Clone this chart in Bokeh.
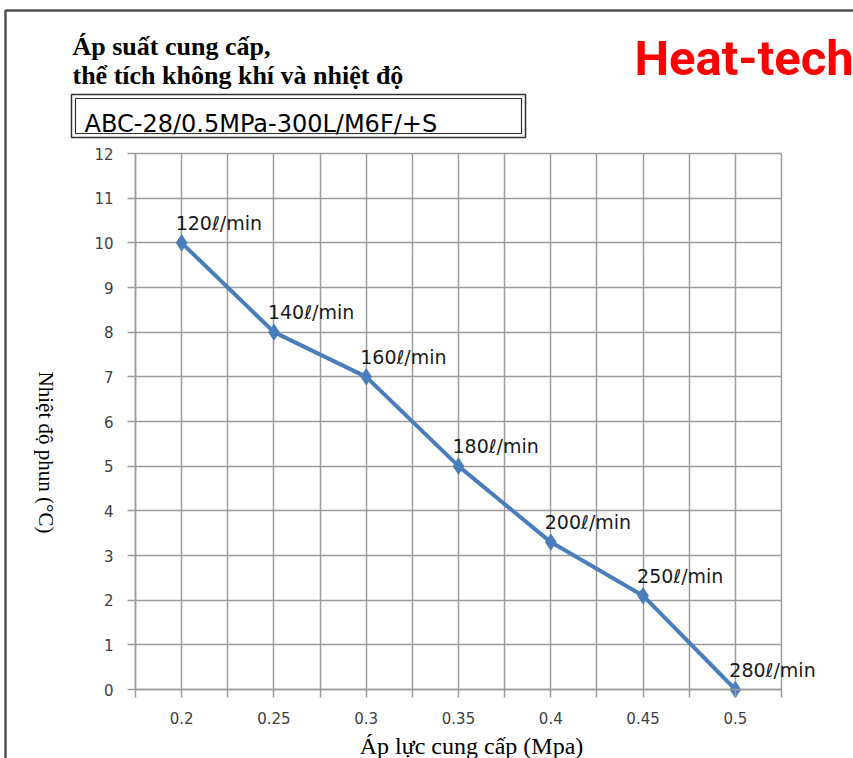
import math
from bokeh.plotting import figure
from bokeh.models import (ColumnDataSource, LabelSet, Label, FixedTicker, Range1d,
                          BoxAnnotation, Grid)
from bokeh.core.properties import value
from bokeh.embed import file_html
from bokeh.resources import INLINE

# ---- data ----
pressure = [0.2, 0.25, 0.3, 0.35, 0.4, 0.45, 0.5]
temperature = [10, 8, 7, 5, 3.3, 2.1, 0]
flow_labels = ["120ℓ/min", "140ℓ/min", "160ℓ/min", "180ℓ/min",
               "200ℓ/min", "250ℓ/min", "280ℓ/min"]
x_tick_labels = ["0.2", "0.25", "0.3", "0.35", "0.4", "0.45", "0.5"]
y_ticks = list(range(0, 13))
title_lines = ["Áp suất cung cấp,", "thể tích không khí và nhiệt độ"]
model_name = "ABC-28/0.5MPa-300L/M6F/+S"
brand = "Heat-tech"
x_title = "Áp lực cung cấp (Mpa)"
y_title = "Nhiệt độ phun (°C)"

half = 0.025
boundaries = [round(v - half, 3) for v in pressure] + [round(pressure[-1] + half, 3)]
all_ticks = sorted(boundaries + pressure)
overrides = {b: "" for b in boundaries}
for v, t in zip(pressure, x_tick_labels):
    overrides[v] = t
x_lo, x_hi = boundaries[0], boundaries[-1]
y_lo, y_hi = y_ticks[0], y_ticks[-1]

# ---- layout (pixels) ----
W, H = 853, 758
PL, PR, PT, PB = 135, 781, 153, 689          # plot area in canvas pixels
sx = (x_hi - x_lo) / (PR - PL)
sy = (y_hi - y_lo) / (PB - PT)
xr = Range1d(x_lo - PL * sx, x_hi + (W - PR) * sx)
yr = Range1d(y_lo - (H - PB) * sy, y_hi + PT * sy)

p = figure(width=W, height=H, output_backend="svg", toolbar_location=None,
           x_range=xr, y_range=yr, min_border=0)
p.outline_line_color = None
p.background_fill_color = "white"
p.border_fill_color = "white"

grid_col = "#9c9c9c"
p.xaxis.fixed_location = y_lo
p.yaxis.fixed_location = x_lo
p.xaxis.bounds = (x_lo, x_hi)
p.yaxis.bounds = (y_lo, y_hi)
for ax in (p.xaxis[0], p.yaxis[0]):
    ax.axis_line_color = grid_col
    ax.axis_line_width = 1.5
    ax.major_tick_line_color = grid_col
    ax.major_tick_line_width = 1.5
    ax.major_tick_out = 8
    ax.major_tick_in = 0
    ax.minor_tick_line_color = None
    ax.major_label_text_font = "DejaVu Sans"
    ax.major_label_text_font_size = "15px"
    ax.major_label_text_color = "#404040"
    ax.major_label_standoff = 14

p.xaxis.ticker = FixedTicker(ticks=all_ticks)
p.xaxis.major_label_overrides = overrides
p.yaxis.ticker = FixedTicker(ticks=y_ticks)

# grid restricted to the plot area
if "cross_bounds" in Grid.properties():
    p.xgrid.ticker = FixedTicker(ticks=all_ticks)
    p.ygrid.ticker = FixedTicker(ticks=y_ticks)
    p.xgrid.bounds = (x_lo, x_hi)
    p.xgrid.cross_bounds = (y_lo, y_hi)
    p.ygrid.bounds = (y_lo, y_hi)
    p.ygrid.cross_bounds = (x_lo, x_hi)
    for g in (p.xgrid[0], p.ygrid[0]):
        g.grid_line_color = grid_col
        g.grid_line_width = 1.5
else:
    p.xgrid.visible = False
    p.ygrid.visible = False
    p.segment(x0=all_ticks, y0=[y_lo] * len(all_ticks), x1=all_ticks,
              y1=[y_hi] * len(all_ticks), line_color=grid_col, line_width=1.5)
    p.segment(x0=[x_lo] * len(y_ticks), y0=y_ticks, x1=[x_hi] * len(y_ticks),
              y1=y_ticks, line_color=grid_col, line_width=1.5)

src = ColumnDataSource(dict(x=pressure, y=temperature, t=flow_labels))
blue = "#4a7ebb"
p.line("x", "y", source=src, line_color=blue, line_width=4)
p.scatter("x", "y", source=src, marker="diamond", size=16, color=blue)

p.add_layout(LabelSet(x="x", y="y", text="t", source=src, x_offset=-6, y_offset=20,
                      text_font=value("DejaVu Sans"), text_font_size="19px",
                      text_color="#1a1a1a", text_baseline="middle"))


def scr(px, py):
    return px, H - py


def box(l, r, t, b, **kw):
    return BoxAnnotation(left=l, right=r, top=H - t, bottom=H - b,
                         left_units="screen", right_units="screen",
                         top_units="screen", bottom_units="screen", **kw)


# outer frame line
p.add_layout(box(5, W + 40, 10, H + 40, fill_alpha=0, line_color="#505050",
                 line_alpha=1, line_width=2.5))

# titles
for txt, py in zip(title_lines, [46, 75]):
    x, y = scr(72, py)
    p.add_layout(Label(x=x, y=y, x_units="screen", y_units="screen", text=txt,
                       text_font="Liberation Serif", text_font_style="bold",
                       text_font_size="26px", text_color="black",
                       text_baseline="alphabetic"))

x, y = scr(634, 58)
p.add_layout(Label(x=x, y=y, x_units="screen", y_units="screen", text=brand,
                   text_font="Roboto", text_font_style="bold",
                   text_font_size="49px", text_color="#ff0000",
                   text_baseline="alphabetic"))

# model box (double border)
p.add_layout(box(71, 525, 94, 137, fill_color="white", fill_alpha=1,
                 line_color="#303030", line_alpha=1, line_width=1.5))
p.add_layout(box(75, 521, 98, 133, fill_alpha=0, line_color="#303030",
                 line_alpha=1, line_width=1.2))
x, y = scr(84, 123)
p.add_layout(Label(x=x, y=y, x_units="screen", y_units="screen", text=model_name,
                   text_font="DejaVu Sans", text_font_size="24px", text_color="black",
                   text_baseline="alphabetic"))

# axis titles
x, y = scr(471, 745)
p.add_layout(Label(x=x, y=y, x_units="screen", y_units="screen", text=x_title,
                   text_font="Liberation Serif", text_font_size="24px",
                   text_color="black", text_align="center", text_baseline="middle"))
x, y = scr(45, 452)
p.add_layout(Label(x=x, y=y, x_units="screen", y_units="screen", text=y_title,
                   text_font="Liberation Serif", text_font_size="21px",
                   text_color="black", text_align="center", text_baseline="middle",
                   angle=-math.pi / 2))

open("out.html", "w").write(file_html(p, INLINE))
